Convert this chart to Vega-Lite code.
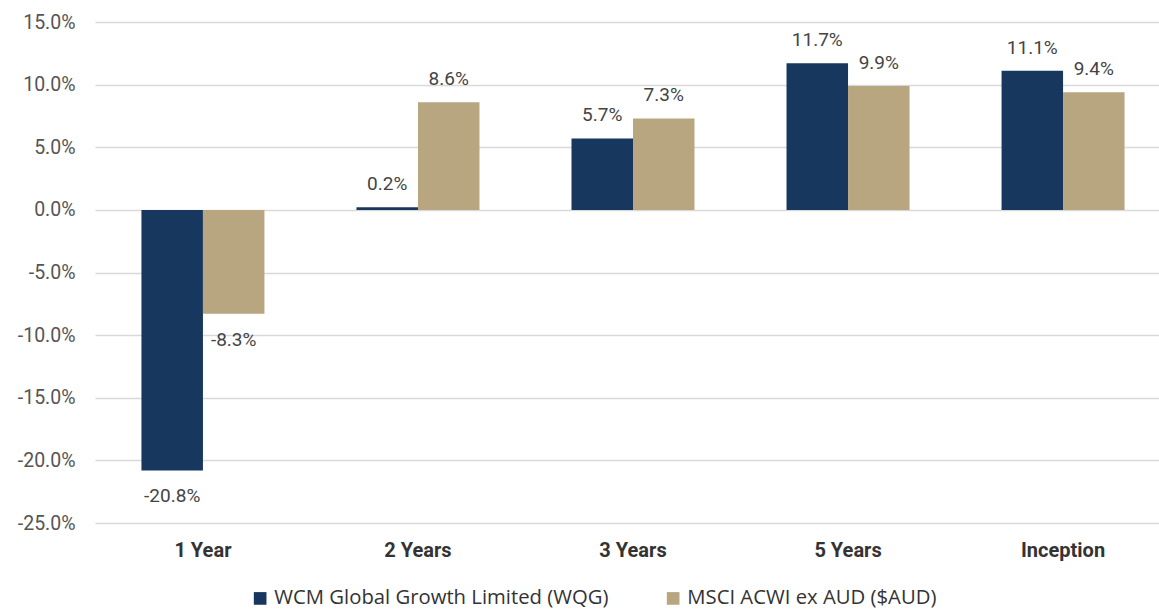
{
  "$schema": "https://vega.github.io/schema/vega-lite/v6.json",
  "width": 1064,
  "height": 501,
  "autosize": {"type": "none"},
  "padding": {"left": 95, "top": 22, "right": 0, "bottom": 88},
  "background": "#ffffff",
  "config": {
    "font": "Roboto",
    "view": {"stroke": null},
    "locale": {
      "number": {
        "decimal": ".",
        "thousands": ",",
        "grouping": [3],
        "currency": ["$", ""],
        "minus": "-"
      }
    }
  },
  "data": {
    "values": [
      {"period": "1 Year", "series": "WCM Global Growth Limited (WQG)", "value": -0.208},
      {"period": "1 Year", "series": "MSCI ACWI ex AUD ($AUD)", "value": -0.083},
      {"period": "2 Years", "series": "WCM Global Growth Limited (WQG)", "value": 0.002},
      {"period": "2 Years", "series": "MSCI ACWI ex AUD ($AUD)", "value": 0.086},
      {"period": "3 Years", "series": "WCM Global Growth Limited (WQG)", "value": 0.057},
      {"period": "3 Years", "series": "MSCI ACWI ex AUD ($AUD)", "value": 0.073},
      {"period": "5 Years", "series": "WCM Global Growth Limited (WQG)", "value": 0.117},
      {"period": "5 Years", "series": "MSCI ACWI ex AUD ($AUD)", "value": 0.099},
      {"period": "Inception", "series": "WCM Global Growth Limited (WQG)", "value": 0.111},
      {"period": "Inception", "series": "MSCI ACWI ex AUD ($AUD)", "value": 0.094}
    ]
  },
  "encoding": {
    "x": {
      "field": "period",
      "type": "nominal",
      "sort": ["1 Year", "2 Years", "3 Years", "5 Years", "Inception"],
      "scale": {"range": [0, 1076], "paddingInner": 0.428, "paddingOuter": 0.216},
      "axis": {
        "title": null,
        "orient": "bottom",
        "domain": false,
        "ticks": false,
        "labelAngle": 0,
        "labelFontSize": 20,
        "labelFontWeight": "bold",
        "labelColor": "#333333",
        "labelPadding": 27,
        "labelBaseline": "middle"
      }
    },
    "xOffset": {
      "field": "series",
      "sort": ["WCM Global Growth Limited (WQG)", "MSCI ACWI ex AUD ($AUD)"]
    },
    "y": {
      "field": "value",
      "type": "quantitative",
      "scale": {"domain": [-0.25, 0.15], "nice": false, "zero": true},
      "axis": {
        "title": null,
        "values": [-0.25, -0.2, -0.15, -0.1, -0.05, 0, 0.05, 0.1, 0.15],
        "format": ".1%",
        "domain": false,
        "ticks": false,
        "grid": true,
        "gridColor": "#d9d9d9",
        "gridWidth": 1.5,
        "labelFontSize": 19.5,
        "labelColor": "#555555",
        "labelPadding": 20
      }
    }
  },
  "layer": [
    {
      "mark": {"type": "bar"},
      "encoding": {
        "color": {
          "field": "series",
          "type": "nominal",
          "scale": {
            "domain": ["WCM Global Growth Limited (WQG)", "MSCI ACWI ex AUD ($AUD)"],
            "range": ["#17375f", "#b8a680"]
          },
          "legend": {
            "title": null,
            "orient": "none",
            "legendX": 155,
            "legendY": 566,
            "direction": "horizontal",
            "symbolType": "square",
            "symbolSize": 160,
            "symbolStrokeWidth": 0,
            "labelFont": "Open Sans",
            "labelFontSize": 20.3,
            "labelColor": "#333333",
            "columnPadding": 54,
            "labelLimit": 450
          }
        }
      }
    },
    {
      "transform": [{"filter": "datum.value >= 0"}],
      "mark": {"type": "text", "dy": -17, "baseline": "alphabetic", "fontSize": 19, "color": "#444444"},
      "encoding": {"text": {"field": "value", "type": "quantitative", "format": ".1%"}}
    },
    {
      "transform": [{"filter": "datum.value < 0"}],
      "mark": {"type": "text", "dy": 32, "baseline": "alphabetic", "fontSize": 19, "color": "#444444"},
      "encoding": {"text": {"field": "value", "type": "quantitative", "format": ".1%"}}
    }
  ]
}
